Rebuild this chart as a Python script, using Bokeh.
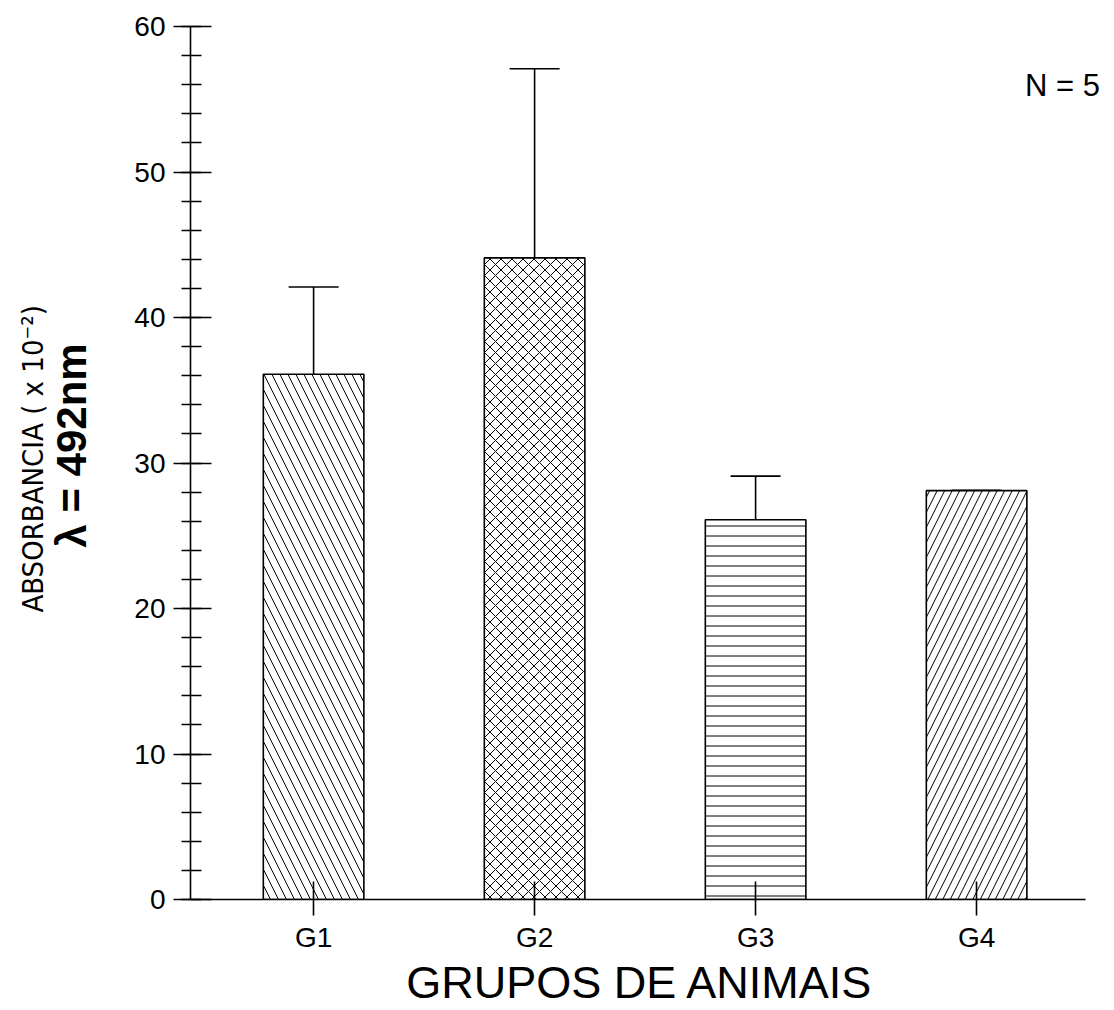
from bokeh.plotting import figure
from bokeh.models import (ColumnDataSource, Range1d, FixedTicker, Whisker, TeeHead, Label,
                          LinearAxis)
from bokeh.embed import file_html
from bokeh.resources import INLINE

groups = ["G1", "G2", "G3", "G4"]
means = [36.1, 44.1, 26.1, 28.1]
errors = [6.0, 13.0, 3.0, 0.0]
hatches = ["\\", "x", "-", "/"]
hatch_scales = [16, 11, 10, 15]
y_ticks = [0, 10, 20, 30, 40, 50, 60]
y_minor = list(range(0, 61, 2))

xs = [i + 1 for i in range(len(groups))]
src = ColumnDataSource(dict(
    x=xs, top=means,
    upper=[m + e for m, e in zip(means, errors)],
    lower=[m - e for m, e in zip(means, errors)],
    hatch=hatches, hscale=hatch_scales,
))

FL, FB = 190, 899  # frame left and bottom in canvas pixels (for label placement)

p = figure(width=1114, height=1010, output_backend="svg", toolbar_location=None,
           x_range=Range1d(0.443, 4.624), y_range=Range1d(0, 60),
           min_border_left=190, min_border_right=0, min_border_top=26, min_border_bottom=111)
p.outline_line_color = None
p.xgrid.visible = False
p.ygrid.visible = False
p.background_fill_color = "white"
p.border_fill_color = "white"

p.vbar(x="x", top="top", bottom=0, width=0.455, source=src,
       fill_color="white", line_color="black", line_width=1.6,
       hatch_pattern="hatch", hatch_scale="hscale", hatch_color="black", hatch_weight=1.0)

w = Whisker(base="x", upper="upper", lower="lower", source=src, dimension="height",
            line_color="black", line_width=1.6,
            upper_head=TeeHead(size=50, line_color="black", line_width=1.6),
            lower_head=TeeHead(size=50, line_color="black", line_width=1.6))
p.add_layout(w)

font = "Liberation Sans"

xa = p.xaxis[0]
xa.bounds = (0.443, 4.493)
xa.ticker = FixedTicker(ticks=xs)
xa.major_label_overrides = {x: g for x, g in zip(xs, groups)}
xa.axis_line_color = "black"
xa.axis_line_width = 1.6
xa.major_tick_line_color = "black"
xa.major_tick_line_width = 1.6
xa.major_tick_in = 18
xa.major_tick_out = 16
xa.minor_tick_line_color = None
xa.major_label_text_font = font
xa.major_label_text_font_size = "28px"
xa.major_label_text_color = "black"
xa.major_label_standoff = 6
xa.axis_label = "GRUPOS  DE  ANIMAIS"
xa.axis_label_text_font = font
xa.axis_label_text_font_size = "45px"
xa.axis_label_text_font_style = "normal"
xa.axis_label_text_color = "black"
xa.axis_label_standoff = 1

ya = p.yaxis[0]
ya.ticker = FixedTicker(ticks=y_ticks, minor_ticks=y_minor)
ya.axis_line_color = "black"
ya.axis_line_width = 1.6
ya.major_tick_line_color = "black"
ya.major_tick_line_width = 1.6
ya.major_tick_in = 21
ya.major_tick_out = 17
ya.minor_tick_line_color = "black"
ya.minor_tick_line_width = 1.3
ya.minor_tick_in = 11
ya.minor_tick_out = 9
ya.major_label_text_font = font
ya.major_label_text_font_size = "28px"
ya.major_label_text_color = "black"
ya.major_label_standoff = 8
ya.axis_label = "\u00a0\u00a0\u00a0\u03bb = 492nm"
ya.axis_label_text_font = font
ya.axis_label_text_font_style = "bold"
ya.axis_label_text_font_size = "42px"
ya.axis_label_text_color = "black"
ya.axis_label_standoff = 36

ya2 = LinearAxis(ticker=FixedTicker(ticks=[]), axis_line_color=None,
                 major_tick_line_color=None, minor_tick_line_color=None,
                 major_label_text_font_size="0px",
                 axis_label="\u00a0ABSORBANCIA ( x 10\u207b\u00b2)",
                 axis_label_text_font="DejaVu Sans Condensed",
                 axis_label_text_font_style="normal",
                 axis_label_text_font_size="29px",
                 axis_label_text_color="black",
                 axis_label_standoff=-4)
p.add_layout(ya2, "left")

p.add_layout(Label(x=1062 - FL, y=FB - 85, x_units="screen", y_units="screen",
                   text="N = 5", text_font=font, text_font_size="31px",
                   text_align="center", text_baseline="alphabetic", text_color="black"))

open("out.html", "w").write(file_html(p, INLINE))
